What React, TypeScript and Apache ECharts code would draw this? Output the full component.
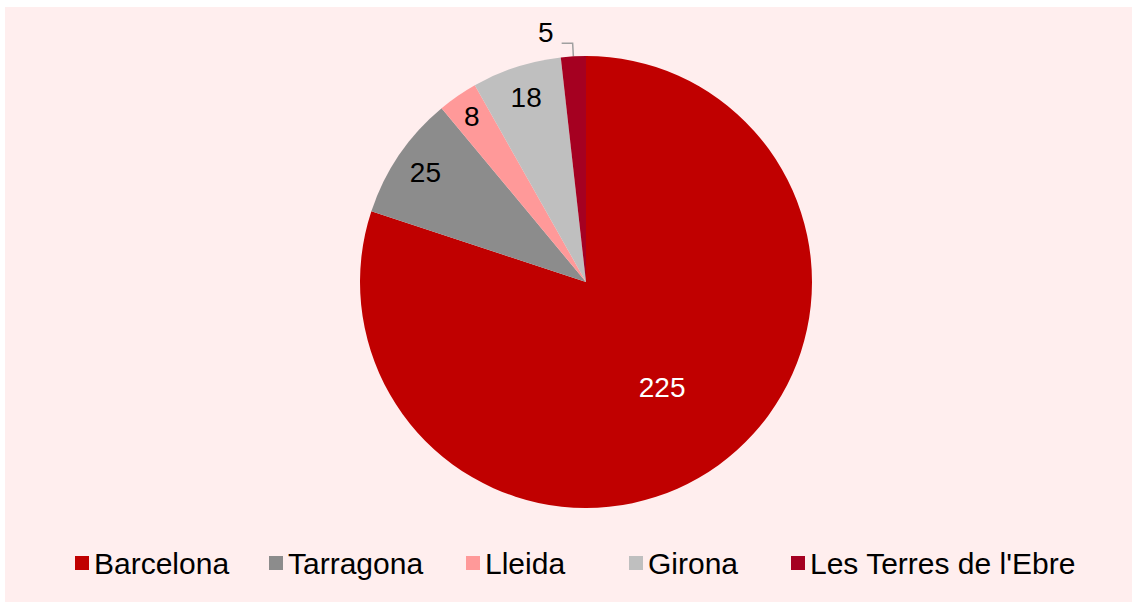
import React, { useEffect, useRef } from "react";
import * as echarts from "echarts";

const categories = ["Barcelona", "Tarragona", "Lleida", "Girona", "Les Terres de l'Ebre"];
const values = [225, 25, 8, 18, 5];
const colors = ["#C00000", "#8C8C8C", "#FF9999", "#BFBFBF", "#A50021"];
const labelColors = ["#FFFFFF", "#000000", "#000000", "#000000", "#000000"];
// fraction of radius where each inside label sits (null = outside label)
const labelRadiusFrac: (number | null)[] = [0.575, 0.86, 0.89, 0.86, null];
const legendLeft = [65, 259, 456, 619, 781];

const FONT = 'Arial, "Liberation Sans", sans-serif';
const CENTER: [number, number] = [581, 275];
const RADIUS = 226;

export default function App() {
  const ref = useRef<HTMLDivElement>(null);
  useEffect(() => {
    if (!ref.current) return;
    const chart = echarts.init(ref.current, undefined, { renderer: "svg" });
    const total = values.reduce((a, b) => a + b, 0);
    const midAngles: number[] = [];
    let acc = 0;
    values.forEach((v) => {
      midAngles.push(((acc + v / 2) / total) * Math.PI * 2);
      acc += v;
    });
    chart.setOption({
      animation: false,
      backgroundColor: "#FFEEEE",
      legend: categories.map((c, i) => ({
        data: [c],
        left: legendLeft[i],
        top: 536,
        itemWidth: 14,
        itemHeight: 14,
        icon: "rect",
        textStyle: { fontSize: 30, fontFamily: FONT, color: "#000" },
        selectedMode: false,
      })),
      series: [
        {
          type: "pie",
          center: CENTER,
          radius: RADIUS,
          startAngle: 90,
          clockwise: true,
          avoidLabelOverlap: false,
          label: {
            show: true,
            position: "inside",
            fontSize: 28,
            fontFamily: FONT,
            formatter: "{c}",
          },
          labelLine: { show: false },
          labelLayout: (params: any) => {
            const f = labelRadiusFrac[params.dataIndex];
            if (f == null) return {};
            const a = midAngles[params.dataIndex];
            return {
              x: CENTER[0] + RADIUS * f * Math.sin(a),
              y: CENTER[1] - RADIUS * f * Math.cos(a),
              align: "center",
              verticalAlign: "middle",
            };
          },
          data: categories.map((c, i) => {
            const item: any = {
              name: c,
              value: values[i],
              itemStyle: { color: colors[i] },
              label: { color: labelColors[i] },
            };
            if (labelRadiusFrac[i] == null) {
              item.label = {
                show: true,
                position: "outside",
                color: labelColors[i],
                fontSize: 28,
                fontFamily: FONT,
                distanceToLabelLine: 4,
                formatter: "{v|{c}}\n{s| }",
                rich: {
                  v: {
                    fontSize: 28,
                    fontFamily: FONT,
                    color: labelColors[i],
                    lineHeight: 28,
                    padding: [0, 4, 0, 0],
                  },
                  s: { fontSize: 1, lineHeight: 22 },
                },
              };
              item.labelLine = {
                show: true,
                length: 13,
                length2: 11,
                lineStyle: { color: "#A0A0A0", width: 1.5 },
              };
            }
            return item;
          }),
        },
      ],
    });
    return () => chart.dispose();
  }, []);
  return (
    <div
      ref={ref}
      style={{ position: "absolute", left: 5, top: 7, width: 1127, height: 595 }}
    />
  );
}
